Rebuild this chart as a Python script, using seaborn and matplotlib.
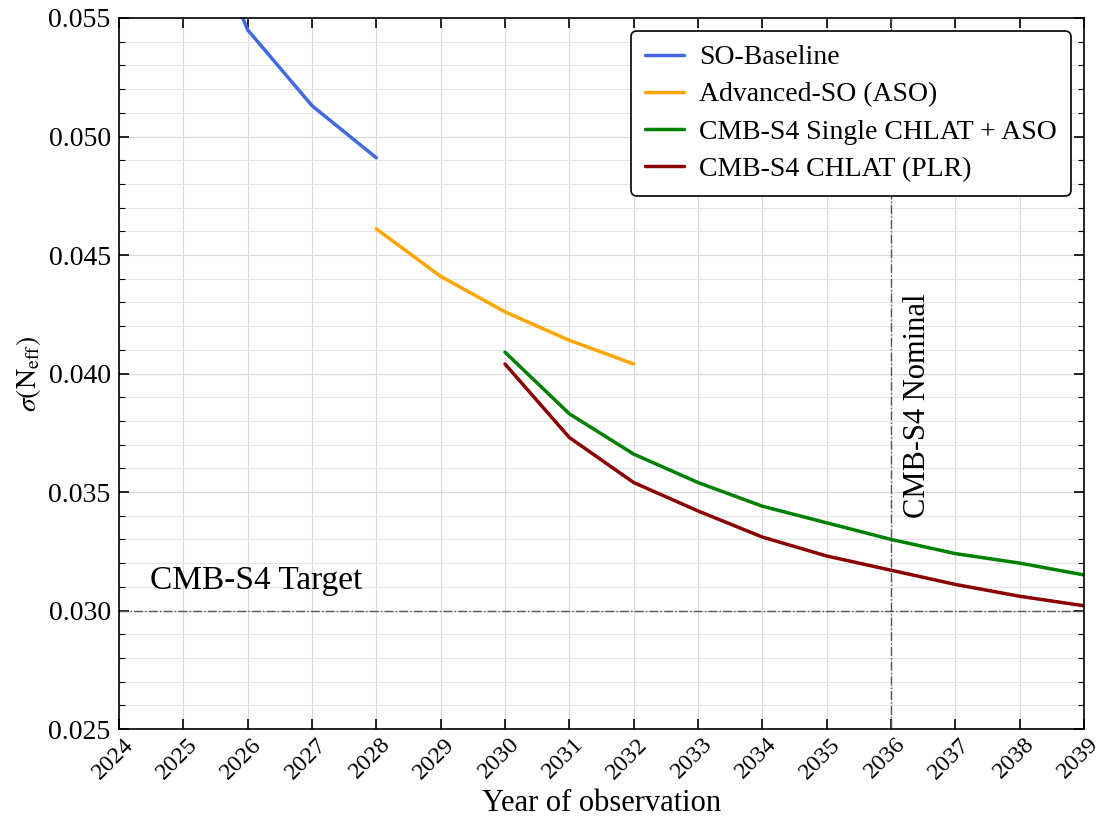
import numpy as np
import pandas as pd
import matplotlib
matplotlib.use("Agg")
import matplotlib.pyplot as plt
from matplotlib.ticker import MultipleLocator
from matplotlib.transforms import ScaledTranslation
import seaborn as sns

# ---- data ----
years_so = [2025, 2026, 2027, 2028]
so_baseline = [0.0610, 0.0545, 0.0513, 0.0491]
years_aso = [2028, 2029, 2030, 2031, 2032]
aso = [0.0461, 0.0441, 0.0426, 0.0414, 0.0404]
years_s4 = [2030, 2031, 2032, 2033, 2034, 2035, 2036, 2037, 2038, 2039]
s4_single = [0.0409, 0.0383, 0.0366, 0.0354, 0.0344, 0.0337, 0.0330, 0.0324, 0.0320, 0.0315]
s4_plr = [0.0404, 0.0373, 0.0354, 0.0342, 0.0331, 0.0323, 0.0317, 0.0311, 0.0306, 0.0302]
labels = ["SO-Baseline", "Advanced-SO (ASO)", "CMB-S4 Single CHLAT + ASO", "CMB-S4 CHLAT (PLR)"]
colors = ["#4169E1", "#FFA500", "#008000", "#8B0000"]
target = 0.030
nominal_year = 2036
xticks = list(range(2024, 2040))

df = pd.concat([
    pd.DataFrame({"year": years_so, "sigma": so_baseline, "exp": labels[0]}),
    pd.DataFrame({"year": years_aso, "sigma": aso, "exp": labels[1]}),
    pd.DataFrame({"year": years_s4, "sigma": s4_single, "exp": labels[2]}),
    pd.DataFrame({"year": years_s4, "sigma": s4_plr, "exp": labels[3]}),
])

sns.set_theme(style="white")
plt.rcParams["font.family"] = ["Liberation Serif", "DejaVu Serif"]
plt.rcParams["mathtext.fontset"] = "stix"

fig = plt.figure(figsize=(11.01, 8.18), dpi=100)
ax = fig.add_axes([119/1101, 1-729/818, (1084-119)/1101, (729-18)/818])

sns.lineplot(data=df, x="year", y="sigma", hue="exp", hue_order=labels,
             palette=dict(zip(labels, colors)), linewidth=2.5, ax=ax, sort=False)

ax.axhline(target, color="#555555", linestyle="-.", linewidth=1)
ax.axvline(nominal_year, color="#555555", linestyle="-.", linewidth=1)

ax.text(2024.48, 0.03091, "CMB-S4 Target", fontsize=24, ha="left", va="baseline", color="black")
ax.text(2036.18, 0.0339, "CMB-S4 Nominal", fontsize=22, rotation=90, ha="left", va="bottom", color="black")

ax.set_xlim(2024, 2039)
ax.set_ylim(0.025, 0.055)
ax.set_xticks(xticks)
ax.set_xticklabels([str(t) for t in xticks], rotation=45, ha="center", fontsize=17.5)
ax.yaxis.set_major_locator(MultipleLocator(0.005))
ax.yaxis.set_minor_locator(MultipleLocator(0.001))
ax.set_yticklabels([f"{v:.3f}" for v in ax.get_yticks()], fontsize=20)
ax.tick_params(which="both", direction="in", top=True, right=True, left=True, bottom=True, colors="black")
ax.tick_params(which="major", length=7, width=1.2)
ax.tick_params(axis="y", which="major", pad=6)
ax.tick_params(which="minor", length=4, width=0.8)
ax.grid(True, which="major", color="#d9d9d9", linewidth=0.8)
ax.grid(True, which="minor", axis="y", color="#e6e6e6", linewidth=0.8)
for s in ax.spines.values():
    s.set_color("black")
    s.set_linewidth(1.2)

ax.set_xlabel("Year of observation", fontsize=22, color="black")
ax.set_ylabel(r"$\sigma(\mathrm{N}_{\mathrm{eff}})$", fontsize=20, color="black")

leg = ax.legend(loc="upper right", fontsize=20, frameon=True, fancybox=True,
                edgecolor="black", framealpha=1, borderaxespad=0.47, handlelength=1.4,
                handletextpad=0.55, labelspacing=0.42, borderpad=0.5)
leg.get_frame().set_linewidth(1.2)
for t in leg.get_texts():
    t.set_color("black")

# shift x tick labels slightly left (after all tick_params calls)
off = ScaledTranslation(-6/100, 0, fig.dpi_scale_trans)
for lab in ax.get_xticklabels():
    lab.set_transform(lab.get_transform() + off)

fig.savefig("out.png", dpi=100)
